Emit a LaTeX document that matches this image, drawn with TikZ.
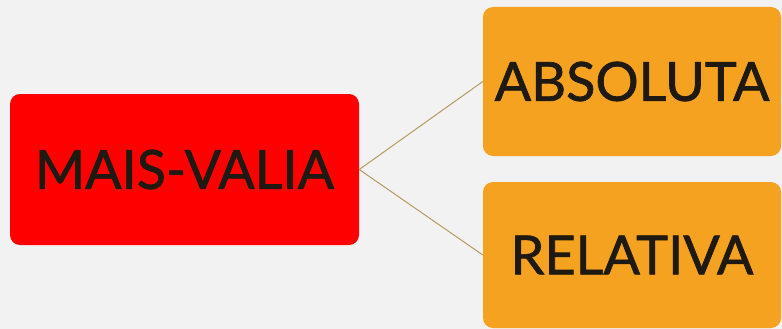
\documentclass[tikz,border=0pt]{standalone}
\usepackage{fontspec}
\setmainfont{Lato}[AutoFakeBold=1.3]
\usetikzlibrary{positioning}
\definecolor{bgGrey}{HTML}{F2F2F2}
\definecolor{mainRed}{HTML}{FF0000}
\definecolor{subOrange}{HTML}{F4A21F}
\definecolor{linkTan}{HTML}{B89A62}
\definecolor{textDark}{HTML}{1E1A12}

\begin{document}
\begin{tikzpicture}[x=1pt, y=-1pt,
    box/.style={rectangle, rounded corners=10pt, inner sep=0pt, text=textDark,
      font=\fontsize{54}{58}\selectfont\bfseries},
    link/.style={draw=linkTan, line width=1pt}]

    \fill[bgGrey] (0,0) rectangle (782,329);
    \useasboundingbox (0,0) rectangle (782,329);

    \node (mv) [box, fill=mainRed, minimum width=349pt, minimum height=151pt] at (184.5,169.5) {MAIS-VALIA};
    \node (abs) [box, fill=subOrange, minimum width=298pt, minimum height=149pt] at (632,81.5) {ABSOLUTA};
    \node (rel) [box, fill=subOrange, minimum width=298pt, minimum height=146pt] at (632,255) {RELATIVA};

    \draw[link] (mv.east) -- (abs.west);
    \draw[link] (mv.east) -- (rel.west);

\end{tikzpicture}
\end{document}
